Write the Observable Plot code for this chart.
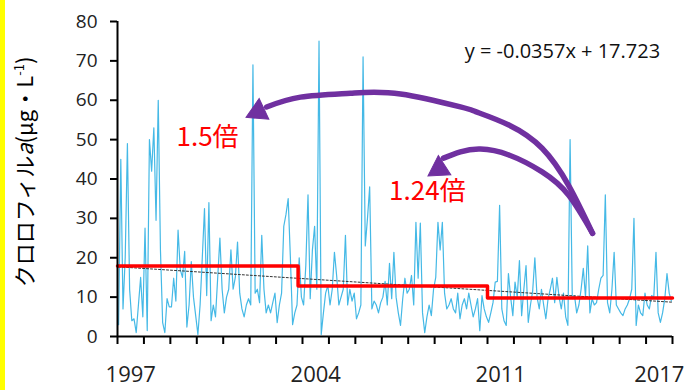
<!DOCTYPE html>
<html><head><meta charset="utf-8">
<script src="https://cdn.jsdelivr.net/npm/d3@7"></script>
<script src="https://cdn.jsdelivr.net/npm/@observablehq/plot@0.6"></script>
<style>
html,body{margin:0;padding:0;background:#fff;}
#wrap{position:relative;width:693px;height:390px;overflow:hidden;background:#fff;}
#bar{position:absolute;left:0;top:0;width:5px;height:390px;background:#ffff00;z-index:2;}
#chart{position:absolute;left:0;top:0;}
</style></head>
<body><div id="wrap"><div id="bar"></div><div id="chart"></div></div>
<script>
// Monthly chlorophyll-a (µg/L), Jan 1997 – Dec 2017
const startYear = 1997;
const v1997 = [3, 45, 7, 20, 49, 12, 4, 4.5, 1, 8, 15, 5];
const v1998 = [27.5, 1.5, 50, 42, 53, 29.5, 60, 22, 3.5, 1, 9.6, 7.5];
const v1999 = [7.5, 14.8, 9, 27, 17, 15, 21.6, 2.4, 8, 19, 10, 5.3];
const v2000 = [0.5, 8, 20, 32.5, 10.4, 34, 4, 8, 5, 15, 25, 12];
const v2001 = [6, 10, 12, 22, 12, 15, 24, 11, 7, 5, 8, 9.6];
const v2002 = [8, 69, 11, 12, 8.6, 25.7, 12, 6, 8, 6, 8.6, 11];
const v2003 = [3.5, 8, 11, 28, 31, 35, 20, 3, 6, 8, 20, 10];
const v2004 = [8, 18, 36, 9.6, 22, 28, 12, 75, 0.5, 6, 11, 13];
const v2005 = [8, 12, 21.4, 15.5, 8, 10, 12, 25.7, 8, 12, 9, 11];
const v2006 = [4.5, 6, 8, 71, 23, 30, 38, 7, 9, 8, 6, 8.6];
const v2007 = [10, 14, 8, 18.6, 9.6, 21.4, 10, 6, 2.8, 9.6, 14.8, 11];
const v2008 = [12, 15.5, 8, 29, 14.8, 28.8, 6, 1, 5, 8, 5.3, 12];
const v2009 = [15, 29, 22, 29, 11, 7, 8, 9.6, 7, 6, 11, 4.5];
const v2010 = [8, 9.6, 7, 11, 8, 5, 7, 9.6, 1.5, 10.4, 7, 5];
const v2011 = [3.6, 6, 8.6, 13.8, 14, 33.3, 7, 4, 2.8, 16, 10, 5.3];
const v2012 = [13.8, 10, 19.3, 5.3, 12, 18, 3.6, 8, 11.5, 20, 10, 7];
const v2013 = [12, 8, 4.5, 9.6, 12, 14.8, 8.6, 15, 10, 7, 11, 5];
const v2014 = [2.8, 50, 9.6, 10.4, 6, 8, 12, 17.3, 10, 23, 6, 9.6];
const v2015 = [8, 8.6, 12, 14.8, 15.5, 36, 8.6, 6, 12, 21.4, 8, 7];
const v2016 = [6, 5.3, 7, 8, 9.6, 12, 30, 2.8, 8, 6, 5.3, 11];
const v2017 = [8, 7, 10.4, 10, 21.4, 6, 3.6, 6, 9.6, 16, 11, 9];

// Period means (step line): month index where each level starts
const stepBreaks = [0, 82, 168, 252];
const stepLevels = [17.9, 12.8, 9.8, 9.8];

// Linear trend  y = -0.0357x + 17.723 (x = month number)
const trendSlope = -0.0357;
const trendIntercept = 17.723;

const yTicks = [0, 10, 20, 30, 40, 50, 60, 70, 80];
const labelYears = [1997, 2004, 2011, 2017];

// Annotations (data coordinates: month index, value)
const arc1X = [215.7, 204.8, 192.8, 177.7, 162.6, 155.7, 128.5, 105.8, 83.1, 67.7];
const arc1Y = [26.2, 38.4, 47.8, 53.7, 57.1, 58.3, 61.6, 61.8, 60.8, 58.3];
const arc2X = [215.7, 204.8, 192.8, 177.7, 164.8, 155.7, 148.0];
const arc2Y = [26.2, 35.9, 41.8, 46.1, 47.6, 46.9, 45.3];
const headX = [63.8, 146.0];
const headY = [57.1, 42.6];
const headAngle = [245, 237];
const noteText = ["1.5倍", "1.24倍"];
const noteX = [40.9, 140.7];
const noteY = [50.6, 36.8];
const eqText = ["y = -0.0357x + 17.723"];
const eqX = [202];
const eqY = [72.3];

const monthly = [].concat(v1997, v1998, v1999, v2000, v2001, v2002, v2003, v2004, v2005, v2006,
  v2007, v2008, v2009, v2010, v2011, v2012, v2013, v2014, v2015, v2016, v2017);
const nMonths = monthly.length;
const series = monthly.map((v, i) => ({i: i + 0.5, v}));
const trend = [1, nMonths].map(n => ({i: n - 0.5, v: trendIntercept + trendSlope * n}));
const steps = stepBreaks.map((b, k) => ({i: b, v: stepLevels[k]}));
const yearTicks = d3.range(0, nMonths + 1, 12);
const labelPos = labelYears.map(y => (y - startYear) * 12 + 6);
const arc1 = arc1X.map((x, k) => ({x, y: arc1Y[k]}));
const arc2 = arc2X.map((x, k) => ({x, y: arc2Y[k]}));
const heads = headX.map((x, k) => ({x, y: headY[k], a: headAngle[k]}));
const notes = noteText.map((t, k) => ({t, x: noteX[k], y: noteY[k]}));
const eqs = eqText.map((t, k) => ({t, x: eqX[k], y: eqY[k]}));

const purple = "#7030a0";
const jp = "'Noto Sans CJK JP', 'Noto Sans', sans-serif";

const plot = Plot.plot({
  width: 693, height: 390,
  marginLeft: 117, marginRight: 21, marginTop: 21, marginBottom: 54,
  x: {domain: [0, nMonths]},
  y: {domain: [0, 80]},
  style: {fontFamily: "'Open Sans', sans-serif", background: "transparent"},
  marks: [
    Plot.axisY({ticks: yTicks, tickSize: 7, tickPadding: 13, fontSize: 19, label: null,
      stroke: "#000", strokeWidth: 2, fill: "#222"}),
    Plot.axisX({ticks: yearTicks, tickSize: 8, tickFormat: () => "", label: null,
      stroke: "#000", strokeWidth: 2}),
    Plot.axisX({ticks: labelPos, tickSize: 0, tickPadding: 30, fontSize: 22, label: null, fill: "#222",
      tickFormat: d => String(startYear + Math.floor(d / 12))}),
    Plot.line(series, {x: "i", y: "v", stroke: "#45b9e6", strokeWidth: 1.2}),
    Plot.line(trend, {x: "i", y: "v", stroke: "#333", strokeWidth: 1, strokeDasharray: "2,2"}),
    Plot.line(steps, {x: "i", y: "v", curve: "step-after", stroke: "#ff0000", strokeWidth: 3.5}),
    Plot.ruleY([0], {stroke: "#000", strokeWidth: 2}),
    Plot.ruleX([0], {stroke: "#000", strokeWidth: 2}),
    Plot.line(arc1, {x: "x", y: "y", curve: "natural", stroke: purple, strokeWidth: 5.5}),
    Plot.line(arc2, {x: "x", y: "y", curve: "natural", stroke: purple, strokeWidth: 5.5}),
    Plot.dot(heads, {x: "x", y: "y", symbol: "triangle", r: 8.5, fill: purple, stroke: purple,
      strokeWidth: 1, rotate: "a"}),
    Plot.text(notes, {x: "x", y: "y", text: "t", fill: "#ff0000", fontSize: 26, fontFamily: jp}),
    Plot.text(eqs, {x: "x", y: "y", text: "t", fill: "#111", fontSize: 20})
  ]
});

const svg = d3.select(plot);
const t = svg.append("text")
  .attr("transform", "translate(33,172) rotate(-90)")
  .attr("text-anchor", "middle")
  .attr("font-family", jp)
  .attr("font-size", 22)
  .attr("fill", "#000");
t.append("tspan").text("クロロフィル");
t.append("tspan").attr("font-style", "italic").text("a");
t.append("tspan").text("(μg・L");
t.append("tspan").attr("font-size", 13).attr("dy", -9).text("-1");
t.append("tspan").attr("dy", 9).text(")");

document.getElementById("chart").appendChild(plot);
</script>
</body></html>
